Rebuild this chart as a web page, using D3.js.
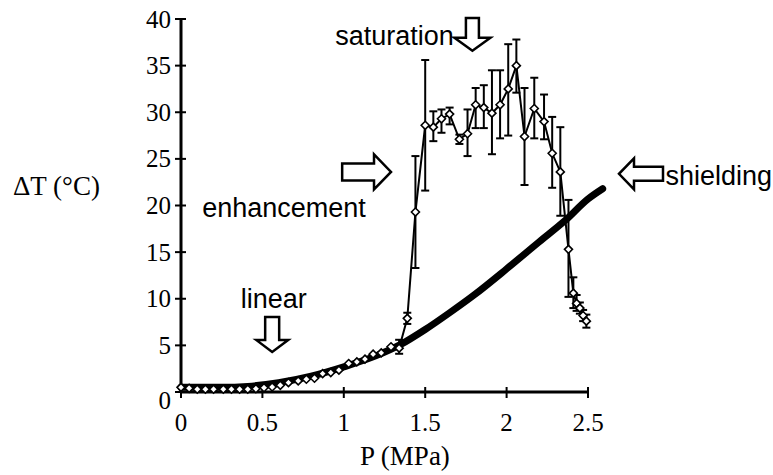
<!DOCTYPE html>
<html lang="en">
<head>
  <meta charset="UTF-8">
  <title>Delta T vs pressure</title>
  <script src="https://d3js.org/d3.v7.min.js"></script>
  <style>
    body { margin: 0; background: #fff; }
    svg { display: block; }
    .tick-label { font-family: "Liberation Serif", "Times New Roman", serif; font-size: 25px; fill: #000; }
    .axis-title { font-family: "Liberation Serif", "Times New Roman", serif; font-size: 27px; fill: #000; }
    .note { font-family: "Liberation Sans", Arial, sans-serif; font-size: 27px; fill: #000; }
  </style>
</head>
<body>
<svg id="chart" width="773" height="475"></svg>
<script>
  // measured series (markers + error bars)
  const pressure = [0, 0.05, 0.10, 0.15, 0.20, 0.26, 0.31, 0.36, 0.41, 0.46, 0.51, 0.56, 0.61, 0.66, 0.72,
    0.77, 0.82, 0.87, 0.92, 0.97, 1.03, 1.08, 1.13, 1.18, 1.23, 1.29, 1.34, 1.39, 1.44, 1.50,
    1.55, 1.60, 1.65, 1.71, 1.76, 1.81, 1.86, 1.91, 1.96, 2.01, 2.06, 2.11, 2.17, 2.23, 2.28,
    2.33, 2.38, 2.41, 2.43, 2.45, 2.47, 2.49];
  const deltaT = [0.5, 0.4, 0.3, 0.3, 0.3, 0.3, 0.3, 0.3, 0.3, 0.35, 0.46, 0.54, 0.72, 1.0, 1.19,
    1.37, 1.48, 1.97, 2.08, 2.34, 3.05, 3.23, 3.52, 4.06, 4.2, 4.85, 4.7, 7.9, 19.3, 28.6,
    28.4, 29.3, 29.8, 27.1, 27.7, 30.8, 30.5, 29.9, 30.8, 32.5, 35.0, 27.4, 30.4, 29.0, 25.6,
    23.6, 15.3, 10.6, 9.5, 9.0, 8.2, 7.6];
  // error bar ends (null = no visible bar)
  const errLow = [null, null, null, null, null, null, null, null, null, null, null, null, null, null, null,
    null, null, null, null, null, null, null, null, null, null, null, 4.1, 7.3, 13.3, 21.6,
    26.9, 27.8, 28.7, 26.6, 25.3, 28.3, 28.3, 25.5, 27.2, 27.5, 32.1, 22.2, 27.2, 27.1, 21.9,
    18.9, 10.2, 9.0, 8.7, 8.4, 7.6, 6.9];
  const errHigh = [null, null, null, null, null, null, null, null, null, null, null, null, null, null, null,
    null, null, null, null, null, null, null, null, null, null, null, 5.6, 8.5, 25.3, 35.6,
    30.1, 30.3, 30.5, 27.6, 30.3, 32.6, 32.9, 34.5, 34.5, 37.3, 37.8, 32.6, 33.7, 31.9, 29.5,
    28.4, 20.6, 12.3, 10.4, 9.6, 8.8, 8.3];

  // thick model curve
  const curveP = [0, 0.25, 0.41, 0.6, 0.8, 1.0, 1.2, 1.35, 1.5, 1.65, 1.8, 2.0, 2.2, 2.36, 2.5, 2.59];
  const curveT = [0.5, 0.5, 0.6, 1.0, 1.7, 2.7, 3.9, 5.1, 6.7, 8.5, 10.4, 13.2, 16.1, 18.4, 20.7, 21.8];

  const xTicks = [0, 0.5, 1, 1.5, 2, 2.5];
  const yTicks = [0, 5, 10, 15, 20, 25, 30, 35, 40];

  const svg = d3.select("#chart");

  const x = d3.scaleLinear().domain([0, 2.5]).range([181, 588]);
  const y = d3.scaleLinear().domain([0, 40]).range([392, 19]);

  // axes
  const axisG = svg.append("g").attr("stroke", "#000");
  axisG.append("line").attr("x1", x(0)).attr("x2", x(0)).attr("y1", y(0)).attr("y2", y(40)).attr("stroke-width", 3);
  axisG.append("line").attr("x1", x(0)).attr("x2", x(2.5)).attr("y1", y(0)).attr("y2", y(0)).attr("stroke-width", 3);
  axisG.selectAll(".yt").data(yTicks).join("line")
    .attr("x1", x(0) - 6).attr("x2", x(0) + 5).attr("y1", d => y(d)).attr("y2", d => y(d)).attr("stroke-width", 2);
  axisG.selectAll(".xt").data(xTicks).join("line")
    .attr("x1", d => x(d)).attr("x2", d => x(d)).attr("y1", y(0) - 5).attr("y2", y(0) + 6).attr("stroke-width", 2);

  svg.selectAll(".ylab").data(yTicks).join("text")
    .attr("class", "tick-label")
    .attr("x", x(0) - 10).attr("y", d => y(d) + (d === 0 ? 8 : 0)).attr("dy", "0.34em")
    .attr("text-anchor", "end")
    .text(d => d);
  svg.selectAll(".xlab").data(xTicks).join("text")
    .attr("class", "tick-label")
    .attr("x", d => x(d)).attr("y", y(0) + 39)
    .attr("text-anchor", "middle")
    .text(d => d);

  svg.append("text").attr("class", "axis-title")
    .attr("x", 405).attr("y", 465).attr("text-anchor", "middle")
    .text("P (MPa)");
  svg.append("text").attr("class", "axis-title")
    .attr("x", 13).attr("y", 195)
    .text("\u0394T (\u00B0C)");

  // thick curve
  const curveData = curveP.map((p, i) => [p, curveT[i]]);
  svg.append("path")
    .datum(curveData)
    .attr("fill", "none").attr("stroke", "#000").attr("stroke-width", 7)
    .attr("stroke-linecap", "round").attr("stroke-linejoin", "round")
    .attr("d", d3.line().x(d => x(d[0])).y(d => y(d[1])).curve(d3.curveMonotoneX));

  const pts = pressure.map((p, i) => ({p, t: deltaT[i], lo: errLow[i], hi: errHigh[i]}));

  // connecting line
  svg.append("path")
    .datum(pts)
    .attr("fill", "none").attr("stroke", "#000").attr("stroke-width", 2)
    .attr("d", d3.line().x(d => x(d.p)).y(d => y(d.t)));

  // error bars
  const bars = svg.append("g").attr("stroke", "#000").attr("stroke-width", 2);
  pts.filter(d => d.lo != null).forEach(d => {
    bars.append("line").attr("x1", x(d.p)).attr("x2", x(d.p)).attr("y1", y(d.lo)).attr("y2", y(d.hi));
    bars.append("line").attr("x1", x(d.p) - 4).attr("x2", x(d.p) + 4).attr("y1", y(d.lo)).attr("y2", y(d.lo));
    bars.append("line").attr("x1", x(d.p) - 4).attr("x2", x(d.p) + 4).attr("y1", y(d.hi)).attr("y2", y(d.hi));
  });

  // diamond markers
  svg.selectAll(".mk").data(pts).join("path")
    .attr("d", "M0,-4L4,0L0,4L-4,0Z")
    .attr("transform", d => `translate(${x(d.p)},${y(d.t)})`)
    .attr("fill", "#fff").attr("stroke", "#000").attr("stroke-width", 1.6);

  // hollow block arrow pointing right in local coords, rotated into place
  function blockArrow(cx, cy, len, shaftW, headW, headL, angle) {
    const h = len / 2, s = shaftW / 2, hw = headW / 2;
    const d = `M${-h},${-s}L${h - headL},${-s}L${h - headL},${-hw}L${h},0L${h - headL},${hw}L${h - headL},${s}L${-h},${s}Z`;
    svg.append("path").attr("d", d)
      .attr("transform", `translate(${cx},${cy}) rotate(${angle})`)
      .attr("fill", "#fff").attr("stroke", "#000").attr("stroke-width", 2.5)
      .attr("stroke-linejoin", "miter");
  }

  blockArrow(x(0.56), (y(8.05) + y(4.3)) / 2, y(4.3) - y(8.05), 14, 32, 12, 90);
  svg.append("text").attr("class", "note").attr("x", x(0.57)).attr("y", y(9)).attr("text-anchor", "middle").text("linear");

  blockArrow(x(1.79), (y(40.1) + y(36.6)) / 2, y(36.6) - y(40.1), 13, 36, 13, 90);
  svg.append("text").attr("class", "note").attr("x", x(1.70) - 4).attr("y", y(37.2)).attr("text-anchor", "end").text("saturation");

  blockArrow((x(0.99) + x(1.29)) / 2, y(23.6), x(1.29) - x(0.99), 17, 35, 17, 0);
  svg.append("text").attr("class", "note").attr("x", x(0.13)).attr("y", y(18.8)).text("enhancement");

  svg.append("text").attr("class", "note").attr("x", 772).attr("y", y(22.2)).attr("text-anchor", "end").text("shielding");
  blockArrow(641, y(23.4), 44, 14, 31, 15, 180);
</script>
</body>
</html>
